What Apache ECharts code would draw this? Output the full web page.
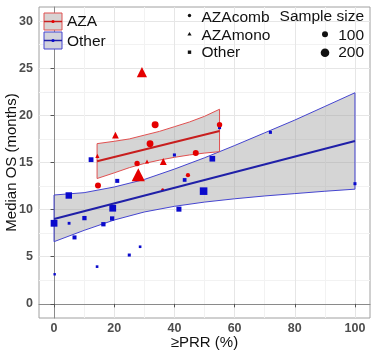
<!DOCTYPE html>
<html>
<head>
<meta charset="utf-8">
<script src="https://cdn.jsdelivr.net/npm/echarts@6/dist/echarts.min.js"></script>
<style>
  html, body { margin: 0; padding: 0; background: #fff; }
  #chart { width: 376px; height: 355px; }
</style>
</head>
<body>
<div id="chart"></div>
<script>
// tick labels
var xTicks = [0, 20, 40, 60, 80, 100];
var yTicks = [0, 5, 10, 15, 20, 25, 30];

// AZA, combination (red circles): x = PRR %, y = median OS, n = sample size
var combX = [33.6, 31.9, 55.0, 47.1, 27.6, 44.5, 14.6, 36.1];
var combY = [19.0, 17.0, 19.0, 16.0, 14.9, 13.65, 12.55, 12.1];
var combN = [135, 130, 80, 100, 80, 50, 100, 25];

// AZA, monotherapy (red triangles)
var monoX = [29.2, 20.4, 14.4, 30.9, 36.3, 28.0];
var monoY = [24.6, 17.9, 15.7, 15.1, 15.1, 13.7];
var monoN = [240, 105, 40, 35, 110, 400];

// Other treatment (blue squares)
var otherX = [12.3, 40.0, 52.6, 55.0, 71.9, 21.0, 43.4, 49.7, 4.9, 100, 19.5, 41.5, 0, 5.0, 10.1, 19.3, 16.4, 6.8, 28.6, 25.0, 14.3, 0.2];
var otherY = [15.3, 15.8, 15.4, 18.7, 18.2, 13.05, 13.15, 11.96, 11.5, 12.75, 10.15, 10.05, 8.55, 8.55, 9.1, 9.06, 8.45, 7.05, 6.06, 5.18, 3.95, 3.14];
var otherN = [100, 40, 140, 40, 40, 70, 60, 250, 180, 40, 200, 110, 200, 35, 80, 80, 80, 70, 30, 40, 30, 25];

// fitted lines and confidence bands
var azaFitX = [14.3, 55];
var azaFitY = [15.13, 18.35];
var azaBandX = [14.3, 20, 25, 30, 35, 40, 45, 50, 55];
var azaBandUpper = [17.0, 17.25, 17.5, 17.9, 18.3, 18.8, 19.3, 19.9, 20.65];
var azaBandLower = [13.3, 13.9, 14.45, 14.9, 15.25, 15.55, 15.8, 16.0, 16.15];

var otherFitX = [0, 100];
var otherFitY = [9.0, 17.28];
var otherBandX = [0, 10, 20, 30, 40, 50, 60, 70, 80, 90, 100];
var otherBandUpper = [11.55, 11.8, 12.4, 13.2, 14.3, 15.5, 16.8, 18.15, 19.5, 20.95, 22.4];
var otherBandLower = [6.6, 7.8, 8.9, 9.75, 10.35, 10.8, 11.15, 11.45, 11.7, 11.95, 12.17];

var FONT = '"Liberation Sans", Arial, sans-serif';
var RED = '#e40000';
var BLUE = '#0a0acc';
var T = 'rgba(0,0,0,0)';
var MAJ = '#e6e6e6';
var MIN = '#f2f2f2';

function zip3 (a, b, c) {
  var out = [];
  for (var i = 0; i < a.length; i++) out.push([a[i], b[i], c[i]]);
  return out;
}
function zip2 (a, b) {
  var out = [];
  for (var i = 0; i < a.length; i++) out.push([a[i], b[i]]);
  return out;
}

function bandSeries (xs, up, lo, stroke) {
  return {
    type: 'custom',
    silent: true,
    data: [[xs[0], up[0]]],
    renderItem: function (params, api) {
      var pts = [];
      for (var i = 0; i < xs.length; i++) pts.push(api.coord([xs[i], up[i]]));
      for (var j = xs.length - 1; j >= 0; j--) pts.push(api.coord([xs[j], lo[j]]));
      return {
        type: 'polygon',
        shape: { points: pts },
        style: { fill: 'rgba(150,150,150,0.4)', stroke: stroke, lineWidth: 1 }
      };
    }
  };
}

function fitSeries (xs, ys, color) {
  return {
    type: 'line',
    data: zip2(xs, ys),
    symbol: 'none',
    silent: true,
    lineStyle: { color: color, width: 2 }
  };
}

function pointSeries (data, symbol, color, k) {
  return {
    type: 'scatter',
    symbol: symbol,
    data: data,
    symbolSize: function (v) { return k * Math.sqrt(v[2]); },
    itemStyle: { color: color, opacity: 1 }
  };
}

function onStep (v, step) {
  return Math.abs(v / step - Math.round(v / step)) < 1e-6;
}

var myChart = echarts.init(document.getElementById('chart'));

var labelStyle = { color: '#4d4d4d', fontWeight: 'bold', fontSize: 12.5, fontFamily: FONT };

function legendText (x, y, text, align) {
  return {
    type: 'text', x: x, y: y, z: 100,
    style: { text: text, font: '15.5px ' + FONT, fill: '#111', align: align || 'left', verticalAlign: 'middle' }
  };
}

option = {
  animation: false,
  backgroundColor: '#fff',
  grid: {
    left: 39, right: 6, top: 7, bottom: 37,
    containLabel: false,
    outerBoundsMode: 'none',
    show: true,
    borderColor: '#a0a0a0',
    borderWidth: 1,
    backgroundColor: '#fff'
  },
  xAxis: [{
    type: 'value',
    min: -5, max: 105, interval: 5,
    name: '≥PRR (%)',
    nameLocation: 'middle',
    nameGap: 17,
    nameMoveOverlap: false,
    nameTextStyle: { fontSize: 15, color: '#111', fontFamily: FONT },
    axisLine: { show: true, lineStyle: { color: '#8a8a8a', width: 1 } },
    axisTick: { show: false },
    axisLabel: Object.assign({
      margin: 4,
      formatter: function (v) { return onStep(v, 20) ? String(Math.round(v)) : ''; }
    }, labelStyle),
    splitLine: { show: true, lineStyle: { color: [T, MAJ, T, MIN], width: 1 } }
  }, {
    type: 'value',
    min: -5, max: 105,
    position: 'bottom',
    axisLine: { show: false },
    axisLabel: { show: false },
    splitLine: { show: false },
    axisTick: { show: true, customValues: xTicks, length: 3.5, lineStyle: { color: '#555' } }
  }],
  yAxis: [{
    type: 'value',
    min: -1.5, max: 31.5, interval: 0.5,
    name: 'Median OS (months)',
    nameLocation: 'middle',
    nameGap: 20,
    nameMoveOverlap: false,
    nameTextStyle: { fontSize: 15, color: '#111', fontFamily: FONT },
    axisLine: { show: true, lineStyle: { color: '#8a8a8a', width: 1 } },
    axisTick: { show: false },
    axisLabel: Object.assign({
      margin: 6,
      formatter: function (v) { return onStep(v, 5) ? String(Math.round(v)) : ''; }
    }, labelStyle),
    splitLine: { show: true, lineStyle: { color: [T, T, T, MAJ, T, T, T, T, MIN, T], width: 1 } }
  }, {
    type: 'value',
    min: -1.5, max: 31.5,
    position: 'left',
    axisLine: { show: false },
    axisLabel: { show: false },
    splitLine: { show: false },
    axisTick: { show: true, customValues: yTicks, length: 3.5, lineStyle: { color: '#555' } }
  }],
  series: [
    bandSeries(otherBandX, otherBandUpper, otherBandLower, '#4545d0'),
    bandSeries(azaBandX, azaBandUpper, azaBandLower, '#e05050'),
    fitSeries(otherFitX, otherFitY, '#2020a8'),
    fitSeries(azaFitX, azaFitY, '#c81e1e'),
    pointSeries(zip3(otherX, otherY, otherN), 'rect', BLUE, 0.48),
    pointSeries(zip3(combX, combY, combN), 'circle', RED, 0.6),
    pointSeries(zip3(monoX, monoY, monoN), 'triangle', RED, 0.66)
  ],
  graphic: [
    // colour legend
    { type: 'rect', z: 100, shape: { x: 44, y: 13, width: 18, height: 17 }, style: { fill: '#d8d3d3', stroke: '#e05050', lineWidth: 1 } },
    { type: 'line', z: 101, shape: { x1: 44, y1: 21.5, x2: 62, y2: 21.5 }, style: { stroke: '#c81e1e', lineWidth: 1.5 } },
    { type: 'circle', z: 102, shape: { cx: 53, cy: 21.5, r: 1.6 }, style: { fill: RED } },
    { type: 'rect', z: 100, shape: { x: 44, y: 32, width: 18, height: 17 }, style: { fill: '#d3d3dc', stroke: '#4545d0', lineWidth: 1 } },
    { type: 'line', z: 101, shape: { x1: 44, y1: 40.5, x2: 62, y2: 40.5 }, style: { stroke: '#2020a8', lineWidth: 1.5 } },
    { type: 'circle', z: 102, shape: { cx: 53, cy: 40.5, r: 1.6 }, style: { fill: BLUE } },
    legendText(67, 22, 'AZA'),
    legendText(67, 41.5, 'Other'),
    // shape legend
    { type: 'circle', z: 100, shape: { cx: 189.5, cy: 15.5, r: 1.7 }, style: { fill: '#111' } },
    { type: 'polygon', z: 100, shape: { points: [[189.5, 32], [191.6, 35.5], [187.4, 35.5]] }, style: { fill: '#111' } },
    { type: 'rect', z: 100, shape: { x: 187.8, y: 50.5, width: 3.4, height: 3.4 }, style: { fill: '#111' } },
    legendText(201.5, 17.5, 'AZAcomb'),
    legendText(201.5, 35.3, 'AZAmono'),
    legendText(201.5, 53, 'Other'),
    // size legend
    legendText(364, 16.5, 'Sample size', 'right'),
    { type: 'circle', z: 100, shape: { cx: 325, cy: 34.3, r: 3 }, style: { fill: '#111' } },
    { type: 'circle', z: 100, shape: { cx: 325, cy: 52.7, r: 4.3 }, style: { fill: '#111' } },
    legendText(364, 35.3, '100', 'right'),
    legendText(364, 53, '200', 'right')
  ]
};

myChart.setOption(option);
window.addEventListener('resize', function () {
  myChart.resize();
});
</script>
</body>
</html>
